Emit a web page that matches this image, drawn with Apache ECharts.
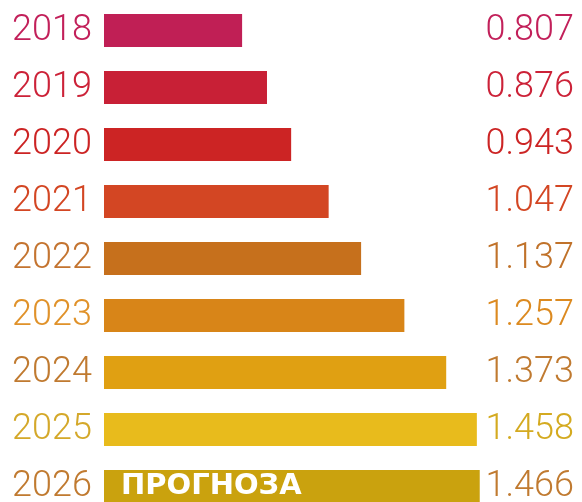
<!DOCTYPE html>
<html>
<head>
<meta charset="utf-8">
<script src="https://cdn.jsdelivr.net/npm/echarts@6/dist/echarts.min.js"></script>
<style>
  html, body { margin: 0; padding: 0; background: #fff; }
  #chart { width: 582px; height: 502px; }
</style>
</head>
<body>
<div id="chart"></div>
<script>
// years and values
const years = ['2018', '2019', '2020', '2021', '2022', '2023', '2024', '2025', '2026'];
const values = [0.807, 0.876, 0.943, 1.047, 1.137, 1.257, 1.373, 1.458, 1.466];
const valueLabels = ['0.807', '0.876', '0.943', '1.047', '1.137', '1.257', '1.373', '1.458', '1.466'];
const barColors = ['#c01f55', '#c82036', '#cc2424', '#d34623', '#c6701c', '#d88518', '#e0a012', '#e8bb1c', '#caa20e'];
const yearColors = ['#c2205a', '#cc2238', '#cc2424', '#d34623', '#c47430', '#e0922a', '#c07a30', '#d4a82a', '#c07a30'];
const valueColors = ['#c2205a', '#cc2238', '#cc2424', '#d34623', '#c0722a', '#dc8a20', '#c07a30', '#d4aa20', '#c07a30'];
const forecastText = 'ПРОГНОЗА';
const forecastIndex = 8;

const chart = echarts.init(document.getElementById('chart'));

const textFont = 'Roboto';

chart.setOption({
  animation: false,
  grid: {
    left: 104,
    top: 2,
    width: 388,
    height: 513,
    outerBoundsMode: 'none'
  },
  xAxis: {
    type: 'value',
    min: 0.424,
    max: 1.5,
    show: false
  },
  yAxis: [
    {
      type: 'category',
      data: years,
      inverse: true,
      axisLine: { show: false },
      axisTick: { show: false },
      axisLabel: {
        align: 'left',
        margin: 92,
        fontFamily: textFont,
        fontWeight: 300,
        fontSize: 36,
        color: (val, idx) => yearColors[idx]
      }
    },
    {
      type: 'category',
      data: valueLabels,
      inverse: true,
      position: 'right',
      axisLine: { show: false },
      axisTick: { show: false },
      axisLabel: {
        align: 'right',
        margin: 82,
        fontFamily: textFont,
        fontWeight: 300,
        fontSize: 36,
        color: (val, idx) => valueColors[idx]
      }
    }
  ],
  series: [{
    type: 'bar',
    barWidth: 33,
    data: values.map((v, i) => ({
      value: v,
      itemStyle: { color: barColors[i] },
      label: i === forecastIndex ? {
        show: true,
        position: 'insideLeft',
        distance: 17,
        formatter: forecastText,
        color: '#fff',
        fontFamily: 'DejaVu Sans',
        fontWeight: 'bold',
        fontSize: 29
      } : { show: false }
    }))
  }]
});
</script>
</body>
</html>
